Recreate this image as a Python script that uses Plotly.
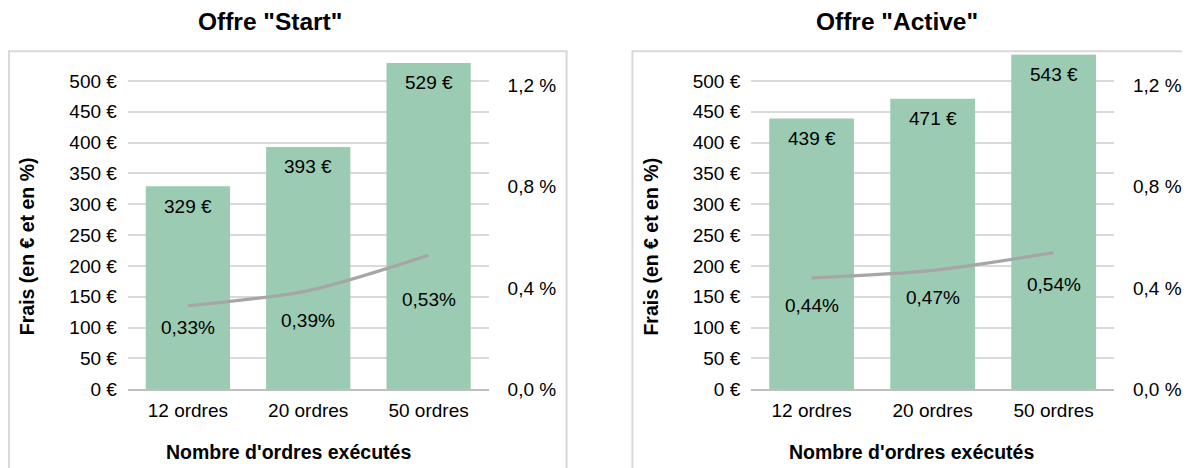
import plotly.graph_objects as go

# ---------------- data ----------------
categories = ["12 ordres", "20 ordres", "50 ordres"]
panel_titles = ['Offre "Start"', 'Offre "Active"']
fees_start = [329, 393, 529]
fees_active = [439, 471, 543]
pct_start = [0.33, 0.39, 0.53]
pct_active = [0.44, 0.47, 0.54]
euro_ticks = [0, 50, 100, 150, 200, 250, 300, 350, 400, 450, 500]
euro_ticklabels = [f"{v} €" for v in euro_ticks]
pct_ticks = [0.0, 0.4, 0.8, 1.2]
pct_ticklabels = ["0,0 %", "0,4 %", "0,8 %", "1,2 %"]
y_title = "Frais (en € et en %)"
x_title = "Nombre d'ordres exécutés"

# ---------------- style ----------------
WIN_W, WIN_H = 1190, 468
OFF = 8          # default page body margin
SY = 0.976       # observed vertical capture factor
W = WIN_W - 2 * OFF
H = int(WIN_H / SY) - 2 * OFF - 1
FONT = "Arial, Liberation Sans, Helvetica, sans-serif"
BAR_COLOR = "#9BCBB3"
LINE_COLOR = "#A6A6A6"
GRID = "#D9D9D9"
BORDER = "#D9D9D9"
TXT = "#000000"
TICK_SIZE = 19

pct_label_offsets = [[21, 29, 43], [27, 27, 31]]

def fx(px):
    return (px - OFF) / W

def fy(py):
    return 1 - (py / SY - OFF) / H

def dy(d):
    return d / SY

plot_top, plot_bot = 54, 389
euro_max = 500 * (plot_bot - plot_top) / 308.3
pct_max = (plot_bot - plot_top) / 253.0

panels = [
    dict(x0=128, x1=490, box=(9, 568), title_x=271, ytitle_x=27, xtitle_x=289,
         fees=fees_start, pct=pct_start, xa="x", ya="y", ya2="y2"),
    dict(x0=753, x1=1117, box=(634, 1200), title_x=899, ytitle_x=653, xtitle_x=914,
         fees=fees_active, pct=pct_active, xa="x2", ya="y3", ya2="y4"),
]

fig = go.Figure()
annotations = []
shapes = []
layout_axes = {}

for i, p in enumerate(panels):
    fig.add_trace(go.Bar(
        x=categories, y=p["fees"], xaxis=p["xa"], yaxis=p["ya"],
        marker=dict(color=BAR_COLOR, line=dict(width=0)),
        hoverinfo="skip", showlegend=False,
    ))
    fig.add_trace(go.Scatter(
        x=categories, y=p["pct"], xaxis=p["xa"], yaxis=p["ya2"],
        mode="lines", line=dict(color=LINE_COLOR, width=3.2, shape="spline", smoothing=0.8),
        hoverinfo="skip", showlegend=False,
    ))

    xkey = "xaxis" if p["xa"] == "x" else "xaxis" + p["xa"][1:]
    ykey = "yaxis" if p["ya"] == "y" else "yaxis" + p["ya"][1:]
    y2key = "yaxis" + p["ya2"][1:]

    layout_axes[xkey] = dict(
        domain=[fx(p["x0"]), fx(p["x1"])], anchor=p["ya"],
        showgrid=False, zeroline=False,
        showline=True, linecolor="#BFBFBF", linewidth=2,
        ticks="outside", ticklen=3, tickcolor="rgba(0,0,0,0)",
        tickfont=dict(family=FONT, size=TICK_SIZE, color=TXT),
        fixedrange=True,
    )
    layout_axes[ykey] = dict(
        domain=[fy(plot_bot), fy(plot_top)], anchor=p["xa"],
        range=[0, euro_max], tickvals=euro_ticks, ticktext=euro_ticklabels,
        showgrid=True, gridcolor=GRID, gridwidth=1.5, zeroline=False,
        showline=False,
        ticks="outside", ticklen=6, tickcolor="rgba(0,0,0,0)",
        tickfont=dict(family=FONT, size=TICK_SIZE, color=TXT),
        fixedrange=True,
    )
    layout_axes[y2key] = dict(
        overlaying=p["ya"], side="right", anchor=p["xa"],
        range=[0, pct_max], tickvals=pct_ticks, ticktext=pct_ticklabels,
        showgrid=False, zeroline=False, showline=False,
        ticks="outside", ticklen=14, tickcolor="rgba(0,0,0,0)",
        tickfont=dict(family=FONT, size=TICK_SIZE, color=TXT),
        fixedrange=True,
    )

    # bar value labels
    for c, v in zip(categories, p["fees"]):
        annotations.append(dict(
            x=c, y=v, xref=p["xa"], yref=p["ya"], text=f"{v} €",
            showarrow=False, yanchor="top", yshift=-dy(7),
            font=dict(family=FONT, size=TICK_SIZE, color=TXT),
        ))
    # percentage labels
    for c, v, off in zip(categories, p["pct"], pct_label_offsets[i]):
        annotations.append(dict(
            x=c, y=v, xref=p["xa"], yref=p["ya2"],
            text=f"{v:.2f}".replace(".", ",") + "%",
            showarrow=False, yanchor="middle", yshift=-dy(off),
            font=dict(family=FONT, size=TICK_SIZE, color=TXT),
        ))
    # panel title
    annotations.append(dict(
        x=fx(p["title_x"]), y=fy(21), xref="paper", yref="paper",
        text=f"<b>{panel_titles[i]}</b>", showarrow=False,
        xanchor="center", yanchor="middle",
        font=dict(family=FONT, size=24.5, color=TXT),
    ))
    # y axis title
    annotations.append(dict(
        x=fx(p["ytitle_x"]), y=fy(246), xref="paper", yref="paper",
        text=f"<b>{y_title}</b>", showarrow=False, textangle=-90,
        xanchor="center", yanchor="middle",
        font=dict(family=FONT, size=19.5, color=TXT),
    ))
    # x axis title
    annotations.append(dict(
        x=fx(p["xtitle_x"]), y=fy(452), xref="paper", yref="paper",
        text=f"<b>{x_title}</b>", showarrow=False,
        xanchor="center", yanchor="middle",
        font=dict(family=FONT, size=19.5, color=TXT),
    ))
    # panel border
    bx0, bx1 = p["box"]
    shapes.append(dict(
        type="rect", xref="paper", yref="paper",
        x0=fx(bx0), x1=fx(bx1), y0=fy(WIN_H + 30), y1=fy(51),
        line=dict(color=BORDER, width=2), fillcolor="rgba(0,0,0,0)", layer="below",
    ))

fig.update_layout(
    width=W, height=H,
    margin=dict(l=0, r=0, t=0, b=0),
    paper_bgcolor="white", plot_bgcolor="rgba(0,0,0,0)",
    bargap=0.30,
    showlegend=False,
    annotations=annotations,
    shapes=shapes,
    font=dict(family=FONT, color=TXT),
    **layout_axes,
)

fig.write_html("out.html")
